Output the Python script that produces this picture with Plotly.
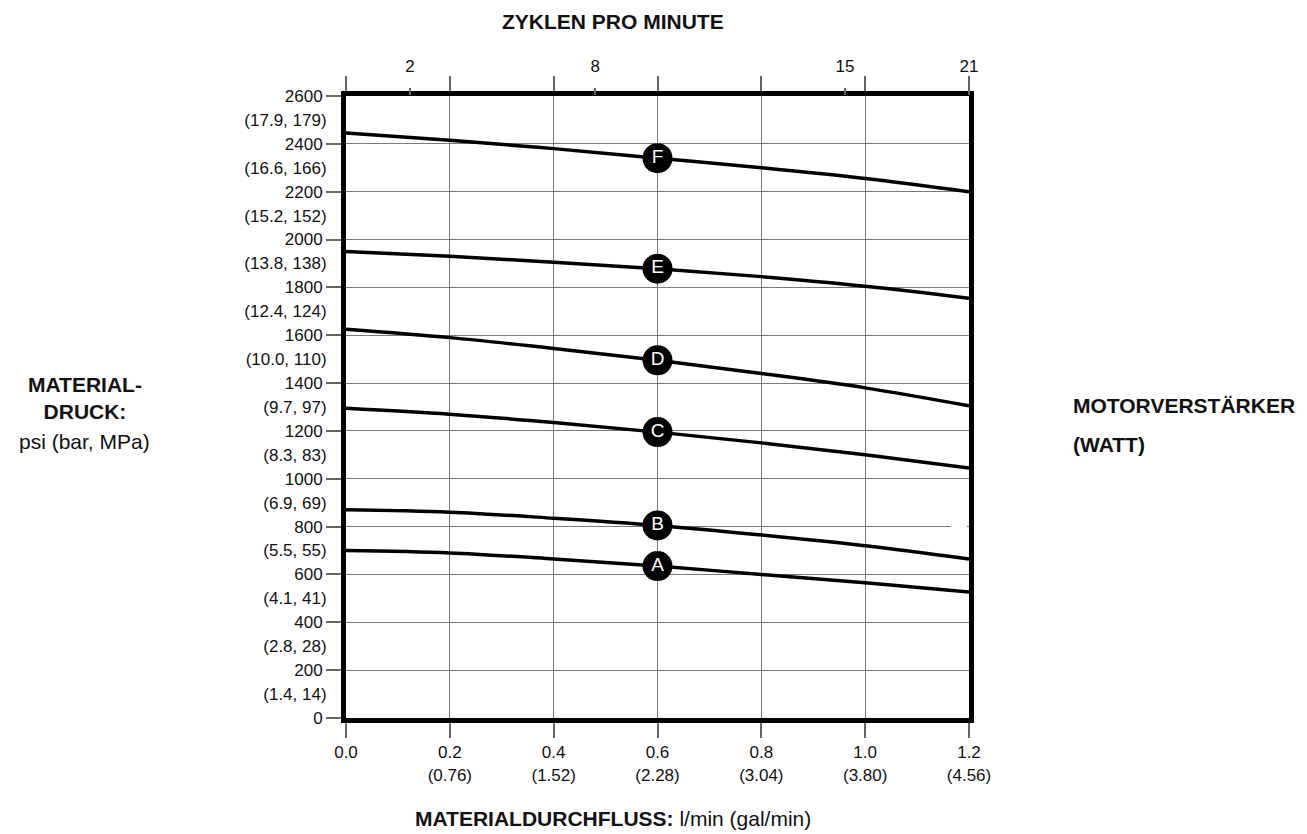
import plotly.graph_objects as go

# Flow rate (l/min) sample points along each performance curve
flow = [0.0, 0.2, 0.4, 0.6, 0.8, 1.0, 1.2]

# Material pressure (psi) per air-motor curve
curve_names = ["A", "B", "C", "D", "E", "F"]
curve_a = [700, 690, 665, 635, 600, 565, 527]
curve_b = [870, 860, 835, 805, 765, 720, 665]
curve_c = [1295, 1270, 1235, 1195, 1150, 1100, 1045]
curve_d = [1625, 1590, 1545, 1495, 1440, 1380, 1305]
curve_e = [1950, 1930, 1905, 1878, 1845, 1805, 1755]
curve_f = [2445, 2415, 2380, 2340, 2300, 2255, 2200]
curves = [curve_a, curve_b, curve_c, curve_d, curve_e, curve_f]
label_flow = 0.6  # curve letters sit on this flow value

# Bottom axis ticks
x_ticks = [0.0, 0.2, 0.4, 0.6, 0.8, 1.0, 1.2]
x_ticktext = ["0.0", "0.2<br>(0.76)", "0.4<br>(1.52)", "0.6<br>(2.28)",
              "0.8<br>(3.04)", "1.0<br>(3.80)", "1.2<br>(4.56)"]

# Top axis: cycles per minute
cycle_pos = [0.123, 0.480, 0.961, 1.2]
cycle_text = ["2", "8", "15", "21"]

# Left axis: psi ticks and bar/MPa labels between them
psi_ticks = list(range(0, 2601, 200))
bar_pos = list(range(100, 2600, 200))
bar_text = ["(1.4, 14)", "(2.8, 28)", "(4.1, 41)", "(5.5, 55)", "(6.9, 69)",
            "(8.3, 83)", "(9.7, 97)", "(10.0, 110)", "(12.4, 124)",
            "(13.8, 138)", "(15.2, 152)", "(16.6, 166)", "(17.9, 179)"]

FONT = "Liberation Sans, Arial, sans-serif"
GRID = "#7a7a7a"
TICK = "#666666"
TICKFONT = dict(size=17, color="#111")

fig = go.Figure()

for ys in curves:
    fig.add_trace(go.Scatter(
        x=flow, y=ys, mode="lines", line=dict(color="black", width=3.5, shape="spline"),
        showlegend=False, hoverinfo="skip"))

idx = flow.index(label_flow)
fig.add_trace(go.Scatter(
    x=[label_flow] * len(curves), y=[c[idx] for c in curves],
    mode="markers+text", text=curve_names, textposition="middle center",
    marker=dict(size=30, color="black"),
    textfont=dict(color="white", size=19, family=FONT),
    showlegend=False, hoverinfo="skip"))

# invisible traces binding the secondary axes
fig.add_trace(go.Scatter(x=[0], y=[0], xaxis="x2", yaxis="y", mode="markers",
                         marker=dict(opacity=0), showlegend=False, hoverinfo="skip"))
fig.add_trace(go.Scatter(x=[0], y=[0], xaxis="x", yaxis="y2", mode="markers",
                         marker=dict(opacity=0), showlegend=False, hoverinfo="skip"))

fig.update_layout(
    width=1307, height=834,
    margin=dict(l=346, r=338, t=96, b=116),
    paper_bgcolor="white", plot_bgcolor="white",
    font=dict(family=FONT, size=17, color="#111"),
    xaxis=dict(range=[0, 1.2], tickvals=x_ticks, ticktext=x_ticktext,
               ticks="outside", ticklen=15, tickcolor=TICK, tickwidth=2,
               showgrid=True, gridcolor=GRID, gridwidth=1,
               showline=True, linecolor="black", linewidth=5, mirror="ticks",
               zeroline=False, tickfont=TICKFONT),
    xaxis2=dict(range=[0, 1.2], overlaying="x", side="top", anchor="y",
                tickvals=cycle_pos, ticktext=cycle_text,
                ticks="outside", ticklen=7, tickcolor=TICK, tickwidth=2,
                ticklabelstandoff=9,
                showgrid=False, showline=False, zeroline=False,
                tickfont=TICKFONT),
    yaxis=dict(range=[0, 2600], tickvals=psi_ticks,
               ticks="outside", ticklen=15, tickcolor=TICK, tickwidth=2,
               showgrid=True, gridcolor=GRID, gridwidth=1,
               showline=True, linecolor="black", linewidth=5, mirror=True,
               zeroline=False, tickfont=TICKFONT),
    yaxis2=dict(range=[0, 2600], overlaying="y", side="left", anchor="x",
                tickvals=bar_pos, ticktext=bar_text,
                ticks="outside", ticklen=15, tickcolor="rgba(0,0,0,0)",
                showgrid=False, showline=False, zeroline=False,
                tickfont=TICKFONT),
)

# grid line at 1000 psi runs past the frame; the 800 psi line stops short of it
fig.add_shape(type="line", x0=1.2, x1=1.237, y0=1000, y1=1000,
              xref="x", yref="y", line=dict(color=GRID, width=1))
fig.add_shape(type="line", x0=1.165, x1=1.196, y0=800, y1=800,
              xref="x", yref="y", line=dict(color="white", width=2), layer="above")

TITLE = 21
bold = dict(family=FONT, size=TITLE, color="#111")
fig.add_annotation(text="<b>ZYKLEN PRO MINUTE</b>", xref="paper", yref="paper",
                   x=0.428, y=1.119, xanchor="center", yanchor="middle",
                   showarrow=False, font=bold)
fig.add_annotation(text="<b>MATERIAL-<br>DRUCK:</b>", xref="paper", yref="paper",
                   x=-0.419, y=0.514, xanchor="center", yanchor="middle",
                   showarrow=False, font=bold, align="center")
fig.add_annotation(text="psi (bar, MPa)", xref="paper", yref="paper",
                   x=-0.419, y=0.445, xanchor="center", yanchor="middle",
                   showarrow=False, font=dict(family=FONT, size=TITLE, color="#111"))
fig.add_annotation(text="<b>MOTORVERSTÄRKER</b>", xref="paper", yref="paper",
                   x=1.164, y=0.503, xanchor="left", yanchor="middle",
                   showarrow=False, font=bold)
fig.add_annotation(text="<b>(WATT)</b>", xref="paper", yref="paper",
                   x=1.164, y=0.439, xanchor="left", yanchor="middle",
                   showarrow=False, font=bold)
fig.add_annotation(text="<b>MATERIALDURCHFLUSS:</b> l/min (gal/min)", xref="paper", yref="paper",
                   x=0.428, y=-0.161, xanchor="center", yanchor="middle",
                   showarrow=False, font=dict(family=FONT, size=TITLE, color="#111"))

fig.write_html("out.html")
